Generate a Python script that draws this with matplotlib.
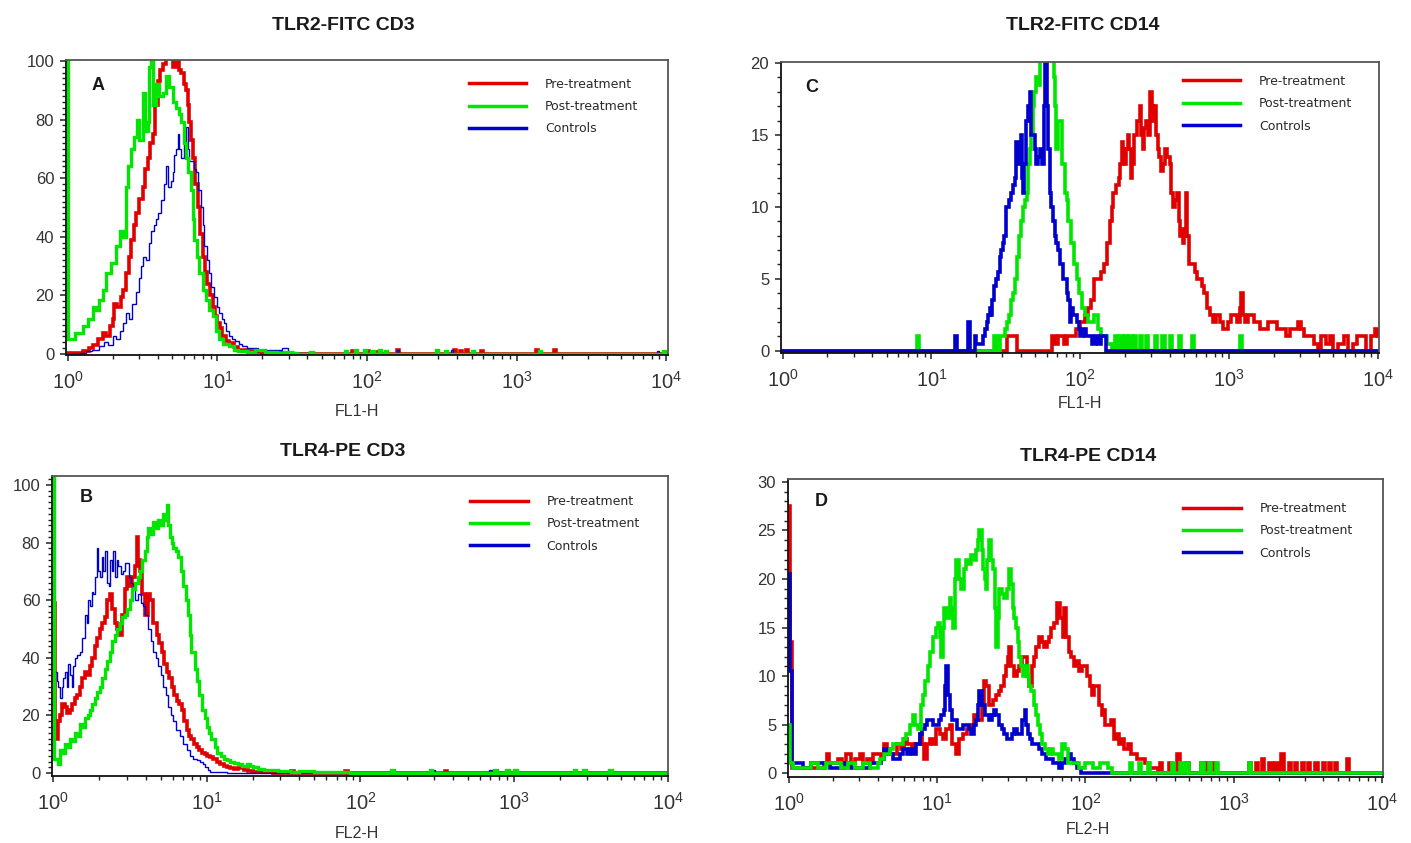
import numpy as np
import matplotlib
matplotlib.use("Agg")
import matplotlib.pyplot as plt
from matplotlib.lines import Line2D
from matplotlib.ticker import MultipleLocator, LogLocator, NullFormatter

plt.rcParams["font.family"] = ["Liberation Sans", "DejaVu Sans"]
plt.rcParams["mathtext.fontset"] = "custom"
plt.rcParams["mathtext.rm"] = "Liberation Sans"
plt.rcParams["mathtext.it"] = "Liberation Sans"

W, H = 1411, 843
RED, GREEN, BLUE = "#e00000", "#00e600", "#0000cc"
LABELS = ["Pre-treatment", "Post-treatment", "Controls"]

# x values are log10(channel intensity), y values are counts

# ---------- A: TLR2-FITC CD3 ----------
A_PRE_X = [0.0, 0.05, 0.1, 0.14, 0.167, 0.2, 0.233, 0.255, 0.278, 0.3, 0.311, 0.33, 0.356, 0.37,
           0.389, 0.405, 0.422, 0.44, 0.456, 0.475, 0.5, 0.515, 0.533, 0.55, 0.567, 0.585, 0.6,
           0.615, 0.633, 0.655, 0.678, 0.7, 0.722, 0.74, 0.756, 0.775, 0.789, 0.8, 0.811, 0.822,
           0.833, 0.85, 0.867, 0.885, 0.9, 0.915, 0.933, 0.95, 0.967, 0.985, 1.0, 1.015, 1.033,
           1.055, 1.08, 1.11, 1.14, 1.2, 1.25, 1.3, 1.4]
A_PRE_Y = [0.5, 0.5, 1, 2, 3, 5, 7, 6, 9.4, 12, 17, 16, 19.6, 22,
           27.6, 33, 39, 44, 48, 53, 57, 63, 67, 72, 75, 85, 93,
           97, 99, 101, 101, 98, 101, 97, 96, 92, 90, 85, 79, 73,
           67, 58, 50, 41, 33, 28, 24, 20, 16, 13, 10.5, 9, 6,
           4.5, 3.7, 2.5, 1.5, 1, 0.6, 0.5, 0.3]
A_PRE_BLIPS = [(1.9, 1.0), (2.0, 1.0), (2.05, 0.8), (2.2, 1.2), (2.58, 1.2), (2.62, 1.0),
               (2.66, 1.2), (2.76, 1.0), (3.13, 1.2), (3.25, 1.2)]

A_POST_X = [-0.013, 0.0, 0.05, 0.1, 0.135, 0.167, 0.19, 0.21, 0.235, 0.256, 0.285, 0.32, 0.345,
            0.367, 0.385, 0.4, 0.42, 0.44, 0.46, 0.478, 0.5, 0.515, 0.533, 0.545, 0.556, 0.57,
            0.589, 0.61, 0.633, 0.655, 0.678, 0.7, 0.722, 0.74, 0.756, 0.775, 0.789, 0.805,
            0.822, 0.835, 0.844, 0.86, 0.878, 0.9, 0.922, 0.945, 0.967, 0.99, 1.01, 1.04, 1.08,
            1.11, 1.14, 1.2, 1.25, 1.32, 1.4, 1.45, 1.5]
A_POST_Y = [110, 5, 7, 9.4, 12, 16, 15, 18.5, 22, 27.6, 31, 36.7, 42,
            40, 57, 64, 70, 74, 80, 73, 89, 76, 79, 98, 101, 85,
            92, 88, 89, 95, 91, 86, 84, 82, 79, 72, 67, 62,
            56, 46, 39, 33, 27.6, 22, 18.5, 15, 12.8, 8, 5, 3.5, 2.6,
            1.5, 1, 0.8, 1.2, 0.7, 0.5, 0.8, 0.3]
A_POST_BLIPS = [(1.62, 0.8), (1.85, 1.0), (1.92, 1.2), (1.98, 1.2), (2.03, 1.0), (2.08, 1.2),
                (2.12, 1.0), (2.46, 1.2), (2.52, 1.0), (2.7, 1.0), (3.15, 1.0), (3.98, 1.0)]

A_CTRL_X = [0.0, 0.08, 0.122, 0.16, 0.21, 0.24, 0.27, 0.3, 0.32, 0.345, 0.367, 0.39, 0.41, 0.43,
            0.456, 0.475, 0.489, 0.505, 0.522, 0.54, 0.556, 0.575, 0.589, 0.605, 0.622, 0.64,
            0.656, 0.67, 0.689, 0.7, 0.711, 0.722, 0.733, 0.745, 0.756, 0.767, 0.778, 0.789,
            0.8, 0.811, 0.822, 0.84, 0.856, 0.87, 0.889, 0.9, 0.911, 0.93, 0.944, 0.96, 0.978,
            0.995, 1.01, 1.03, 1.044, 1.06, 1.08, 1.1, 1.12, 1.145, 1.167, 1.2, 1.23, 1.27,
            1.32, 1.37, 1.43, 1.47, 1.52, 1.6]
A_CTRL_Y = [0, 0.5, 1, 1.5, 2.6, 4, 3, 6, 5, 8, 10.5, 14, 12, 17,
            21, 26, 30, 33, 32, 38, 42, 44, 46, 48, 52.5, 58,
            64, 57, 59, 62, 68, 70, 75, 70, 67, 67, 72, 77.5,
            70, 66, 66, 63, 62, 56, 50, 44, 37, 32, 27.6, 23, 19.6,
            16, 14, 12, 10.5, 8, 6, 5, 4.3, 3.5, 2.6, 2.2, 2, 1.5,
            1.5, 1.2, 2, 0.8, 0.5, 0.3]
A_CTRL_BLIPS = [(2.2, 1.2), (2.56, 1.2), (3.94, 1.0)]

# ---------- B: TLR4-PE CD3 ----------
B_PRE_X = [0.0, 0.012, 0.022, 0.033, 0.043, 0.06, 0.076, 0.09, 0.11, 0.125, 0.14, 0.157, 0.174,
           0.19, 0.207, 0.224, 0.24, 0.255, 0.27, 0.287, 0.304, 0.32, 0.337, 0.353, 0.37, 0.385,
           0.402, 0.418, 0.435, 0.45, 0.467, 0.483, 0.5, 0.515, 0.533, 0.543, 0.555, 0.565,
           0.58, 0.598, 0.615, 0.63, 0.652, 0.674, 0.69, 0.707, 0.72, 0.74, 0.755, 0.77, 0.787,
           0.804, 0.82, 0.837, 0.853, 0.87, 0.885, 0.9, 0.918, 0.935, 0.95, 0.967, 0.985, 1.0,
           1.02, 1.043, 1.065, 1.087, 1.11, 1.13, 1.15, 1.174, 1.2, 1.24, 1.27, 1.3, 1.4]
B_PRE_Y = [59, 15, 12, 18, 20, 24, 23, 21, 22, 24, 26, 27, 30,
           33, 35, 34, 37, 40, 44, 47, 50, 52, 54, 60, 62, 57,
           52, 50, 48, 55, 64, 68, 65, 68, 72, 82, 74, 70,
           62, 55, 62, 60, 52, 48, 45, 42, 38, 35, 33, 30, 27,
           25, 24, 22, 18, 15, 13, 12, 10, 9, 8, 7, 6.5, 6,
           5.5, 5, 4, 3, 2.5, 2, 1.8, 1.5, 1.8, 1, 0.8, 0.5, 0.3]
B_PRE_BLIPS = [(1.55, 0.8), (1.9, 0.8), (2.55, 0.8)]

B_POST_X = [-0.008, 0.003, 0.03, 0.043, 0.06, 0.076, 0.09, 0.11, 0.125, 0.14, 0.157, 0.174, 0.19,
            0.207, 0.225, 0.24, 0.255, 0.27, 0.287, 0.304, 0.32, 0.337, 0.353, 0.37, 0.385,
            0.402, 0.418, 0.435, 0.45, 0.467, 0.483, 0.5, 0.515, 0.533, 0.55, 0.565, 0.58,
            0.598, 0.61, 0.62, 0.635, 0.652, 0.668, 0.685, 0.7, 0.717, 0.73, 0.74, 0.75, 0.76,
            0.77, 0.78, 0.8, 0.815, 0.83, 0.848, 0.865, 0.88, 0.89, 0.9, 0.92, 0.935, 0.95,
            0.967, 0.985, 1.0, 1.015, 1.03, 1.05, 1.065, 1.09, 1.11, 1.13, 1.15, 1.175, 1.2,
            1.23, 1.26, 1.28, 1.3, 1.33, 1.37, 1.42, 1.46, 1.5, 1.55, 1.6, 1.7, 1.8, 1.9]
B_POST_Y = [115, 5, 3, 8, 7, 10, 9, 12, 11, 14, 13, 17, 16,
            19, 20, 22, 24, 26, 28, 30, 33, 36, 39, 42, 46,
            48, 50, 52, 54, 55, 57, 60, 64, 66, 68, 70, 74,
            77, 82, 85, 83, 87, 85, 88, 86, 90, 88, 93, 86, 82,
            80, 78, 77, 75, 70, 65, 60, 55, 48, 42, 36, 32, 27,
            22, 19, 16, 14, 12, 9, 7, 6, 5, 4.5, 4, 3.5, 3,
            2.5, 3, 2.5, 2, 1.5, 1, 1, 0.7, 0.8, 0.5, 0.6, 0.4, 0.5, 0.3]
B_POST_BLIPS = [(2.2, 1.0), (2.45, 1.0), (2.87, 1.0), (2.95, 1.0), (3.0, 1.0), (3.39, 1.0),
                (3.45, 1.0), (3.62, 1.0)]

B_CTRL_X = [0.0, 0.01, 0.022, 0.033, 0.043, 0.054, 0.065, 0.076, 0.087, 0.098, 0.11, 0.12, 0.13,
            0.14, 0.157, 0.174, 0.19, 0.207, 0.217, 0.228, 0.24, 0.25, 0.26, 0.272, 0.283,
            0.293, 0.304, 0.315, 0.326, 0.337, 0.348, 0.36, 0.37, 0.38, 0.39, 0.4, 0.413,
            0.424, 0.44, 0.457, 0.47, 0.49, 0.505, 0.52, 0.535, 0.554, 0.57, 0.587, 0.6, 0.62,
            0.635, 0.652, 0.668, 0.685, 0.7, 0.717, 0.733, 0.75, 0.765, 0.78, 0.8, 0.826,
            0.845, 0.87, 0.89, 0.913, 0.935, 0.957, 0.975, 0.99, 1.005, 1.02, 1.1]
B_CTRL_Y = [35, 35, 32, 30, 26, 30, 33, 35, 30, 38, 34, 30, 37,
            40, 41, 42, 47, 55, 52, 60, 58, 63, 62, 68, 78,
            70, 68, 75, 70, 77, 66, 65, 74, 70, 77, 68, 74,
            72, 69, 70, 73, 68, 66, 65, 60, 62, 59, 58, 55, 50,
            46, 42, 40, 37, 34, 30, 27, 23, 20, 18, 15, 13,
            10, 8, 6, 5, 4.5, 4, 3, 2, 1, 0.5, 0.3]
B_CTRL_BLIPS = [(1.5, 0.6), (2.47, 1.0), (2.84, 1.0)]

# ---------- C: TLR2-FITC CD14 ----------
C_PRE_X = [0.0, 1.51, 1.575, 1.81, 1.83, 1.85, 1.87, 1.89, 1.91, 1.93, 1.95, 1.97, 1.99, 2.0,
           2.015, 2.03, 2.05, 2.07, 2.09, 2.105, 2.12, 2.14, 2.16, 2.18, 2.2, 2.21, 2.22, 2.24,
           2.26, 2.27, 2.28, 2.29, 2.3, 2.31, 2.32, 2.33, 2.34, 2.35, 2.36, 2.38, 2.4, 2.41,
           2.42, 2.43, 2.44, 2.455, 2.47, 2.48, 2.49, 2.5, 2.51, 2.52, 2.53, 2.54, 2.555, 2.57,
           2.585, 2.6, 2.61, 2.62, 2.635, 2.65, 2.66, 2.67, 2.68, 2.69, 2.7, 2.71, 2.72, 2.73,
           2.75, 2.77, 2.785, 2.8, 2.815, 2.83, 2.85, 2.87, 2.89, 2.91, 2.94, 2.96, 2.99, 3.01,
           3.03, 3.05, 3.07, 3.08, 3.095, 3.11, 3.13, 3.15, 3.17, 3.19, 3.21, 3.24, 3.26, 3.28,
           3.3, 3.32, 3.35, 3.38, 3.41, 3.44, 3.46, 3.48, 3.5, 3.54, 3.57, 3.6, 3.62, 3.65, 3.68,
           3.7, 3.73, 3.77, 3.8, 3.83, 3.86, 3.89, 3.92, 3.95, 3.98, 4.0]
C_PRE_Y = [0, 1, 0, 1, 0.5, 1, 1, 0.5, 1, 1, 1, 1.5, 1.5, 2,
           2, 2.5, 3, 3.5, 5, 5, 5, 5.5, 6, 7.5, 9, 10, 11, 11.5,
           12, 13, 14.5, 14, 13, 14, 15, 14, 12, 13, 15, 16, 17, 15,
           14, 15.5, 16, 15, 18, 17, 16, 17, 15, 14, 13.5, 12.5, 13, 14,
           13.5, 13, 11, 10, 10.5, 11, 9, 8, 8.5, 7.5, 8, 11, 8, 6,
           6, 5.5, 5, 5, 4.5, 4, 3, 2.5, 2, 2.5, 2, 1.5, 2, 2.5,
           2.5, 2, 3, 4, 2.5, 2, 2.5, 2.5, 2, 2, 1.5, 1.5, 2, 2,
           2, 1.5, 1.5, 1, 1.5, 1.5, 2, 1.5, 1, 1, 0.5, 0, 1, 0.5, 1,
           0, 0.5, 1, 0, 0.5, 1, 1, 0, 1, 1.5, 1]
C_PRE_BLIPS = []

C_POST_X = [0.0, 0.9, 0.915, 1.42, 1.44, 1.46, 1.48, 1.495, 1.51, 1.52, 1.535, 1.545, 1.56,
            1.575, 1.59, 1.6, 1.615, 1.627, 1.64, 1.65, 1.66, 1.67, 1.68, 1.69, 1.705, 1.715,
            1.73, 1.75, 1.766, 1.79, 1.806, 1.82, 1.83, 1.84, 1.85, 1.86, 1.874, 1.885, 1.897,
            1.908, 1.92, 1.93, 1.94, 1.958, 1.976, 1.99, 2.01, 2.03, 2.05, 2.07, 2.09, 2.1, 2.12,
            2.14, 2.16, 2.18]
C_POST_Y = [0, 1, 0, 1, 0, 1, 1, 1.5, 2, 2.5, 3.5, 4, 5,
            6.5, 8, 9, 10, 10.5, 11, 13, 14, 15, 17, 18, 19, 18.5,
            21, 21, 21, 21, 21, 19, 17, 14, 16, 16, 13, 13, 11,
            10.5, 9, 9, 7.5, 6, 5, 4, 3, 2.5, 2, 2, 2.5, 2.5, 1.5,
            1, 1, 0.5]
C_POST_BLIPS = [(2.23, 1), (2.27, 1), (2.3, 1), (2.33, 1), (2.36, 1), (2.4, 1), (2.44, 1),
                (2.5, 1), (2.55, 1), (2.6, 1), (2.66, 1), (2.75, 1), (3.07, 1)]

C_CTRL_X = [0.0, 1.155, 1.17, 1.245, 1.26, 1.29, 1.3, 1.32, 1.345, 1.36, 1.37, 1.38, 1.39, 1.4,
            1.41, 1.42, 1.435, 1.45, 1.46, 1.47, 1.48, 1.49, 1.5, 1.51, 1.52, 1.535, 1.545, 1.56,
            1.57, 1.58, 1.59, 1.6, 1.605, 1.615, 1.625, 1.637, 1.648, 1.66, 1.67, 1.68, 1.693,
            1.705, 1.717, 1.73, 1.74, 1.75, 1.758, 1.766, 1.775, 1.784, 1.795, 1.806, 1.818,
            1.83, 1.84, 1.85, 1.862, 1.874, 1.886, 1.897, 1.91, 1.92, 1.93, 1.94, 1.95, 1.96,
            1.975, 1.99, 2.0, 2.02, 2.04, 2.06, 2.08, 2.1, 2.12, 2.14]
C_CTRL_Y = [0, 1, 0, 2, 0, 1, 0.5, 0.5, 1, 1.5, 2, 2.5, 3, 2.5,
            3.5, 4.5, 5, 5.5, 6.5, 7, 7.5, 8, 10, 10, 10.5, 11, 11.5, 12,
            14.5, 14.5, 13, 15, 12, 11, 13, 16, 17, 18, 15, 15, 14,
            13, 13.5, 14, 13, 13, 17, 21, 17, 14, 11, 10, 9,
            8, 7.5, 7, 6, 6, 5, 5, 4, 3.5, 2, 3, 2.5, 2.5,
            2, 1.5, 1, 1.5, 1, 1, 0.5, 1, 0.5, 1]
C_CTRL_BLIPS = []

# ---------- D: TLR4-PE CD14 ----------
D_PRE_X = [0.0, 0.012, 0.024, 0.1, 0.15, 0.21, 0.24, 0.257, 0.27, 0.3, 0.33, 0.36, 0.39, 0.42,
           0.45, 0.48, 0.5, 0.526, 0.55, 0.57, 0.6, 0.62, 0.64, 0.66, 0.68, 0.705, 0.73, 0.76,
           0.78, 0.8, 0.83, 0.855, 0.884, 0.9, 0.91, 0.93, 0.95, 0.97, 0.996, 1.02, 1.04, 1.06,
           1.085, 1.1, 1.13, 1.15, 1.174, 1.2, 1.22, 1.235, 1.25, 1.265, 1.286, 1.3, 1.315,
           1.33, 1.35, 1.365, 1.38, 1.4, 1.415, 1.43, 1.45, 1.465, 1.475, 1.487, 1.5, 1.52,
           1.54, 1.555, 1.57, 1.59, 1.605, 1.62, 1.64, 1.655, 1.67, 1.69, 1.705, 1.72, 1.74,
           1.756, 1.77, 1.79, 1.81, 1.83, 1.846, 1.855, 1.866, 1.877, 1.89, 1.9, 1.92, 1.935,
           1.955, 1.975, 1.99, 2.01, 2.03, 2.045, 2.06, 2.07, 2.09, 2.11, 2.125, 2.135, 2.15,
           2.17, 2.19, 2.21, 2.225, 2.24, 2.26, 2.29, 2.31, 2.325, 2.35, 2.37, 2.4, 2.43, 2.46]
D_PRE_Y = [27.5, 13.5, 0.5, 0.5, 0.5, 0.5, 1, 2, 1, 1, 1.5, 1, 2, 1,
           1.5, 2, 1, 1.5, 1, 2, 2, 1.5, 3, 2.5, 2, 2, 3, 2.5,
           3.5, 3, 2.5, 3, 4, 3, 1.5, 3, 3.5, 3, 4.5, 4, 3.5, 4.5,
           5, 3, 2, 3.5, 4, 4.5, 4.5, 5, 6, 5.5, 5.5, 7, 9.5,
           9, 7, 7, 7.5, 8, 8.5, 9, 10, 11, 12, 13, 11, 10,
           10.5, 11, 12, 12, 10, 9, 11, 12, 13, 14, 13.5, 13, 13.5,
           14, 15, 15.5, 17.5, 16, 14, 17, 14, 14, 12.5, 12, 11, 11.5,
           10.5, 11, 11, 10, 9, 8, 9, 9, 7, 6, 6.5, 5, 5,
           5.5, 3.5, 4, 3, 3.5, 2.5, 3, 2, 2, 1.5, 1.5, 1, 0.5, 0.5]
D_PRE_BLIPS = [(2.5, 1), (2.56, 1), (2.62, 2), (2.68, 1), (2.78, 1), (2.82, 1), (2.86, 1),
               (3.1, 1), (3.15, 1), (3.19, 1.5), (3.24, 1), (3.28, 1), (3.32, 2), (3.37, 1),
               (3.41, 1), (3.46, 1), (3.5, 1), (3.55, 1), (3.6, 1), (3.64, 1), (3.68, 1),
               (3.76, 1.5)]

D_POST_X = [0.0, 0.012, 0.03, 0.08, 0.15, 0.2, 0.25, 0.3, 0.35, 0.4, 0.45, 0.5, 0.55, 0.6,
            0.615, 0.64, 0.66, 0.68, 0.705, 0.725, 0.75, 0.77, 0.79, 0.815, 0.84, 0.855, 0.87,
            0.89, 0.906, 0.92, 0.94, 0.956, 0.973, 0.99, 1.007, 1.02, 1.03, 1.04, 1.05, 1.065,
            1.085, 1.095, 1.107, 1.12, 1.13, 1.145, 1.163, 1.18, 1.197, 1.215, 1.23, 1.25,
            1.264, 1.275, 1.286, 1.3, 1.31, 1.32, 1.33, 1.34, 1.353, 1.365, 1.375, 1.39, 1.4,
            1.41, 1.42, 1.435, 1.454, 1.47, 1.487, 1.5, 1.51, 1.52, 1.53, 1.545, 1.555, 1.565,
            1.577, 1.59, 1.6, 1.61, 1.62, 1.635, 1.655, 1.665, 1.68, 1.695, 1.71, 1.73, 1.745,
            1.76, 1.78, 1.8, 1.823, 1.84, 1.86, 1.88, 1.92, 1.96, 2.0, 2.05, 2.1, 2.15]
D_POST_Y = [5, 1, 0.5, 0.5, 1, 0.5, 1, 1, 0.5, 1, 0.5, 1, 0.5, 1,
            1.5, 2, 2, 2.5, 3, 3, 3, 3.5, 4, 5, 6, 5, 4.5,
            7, 8, 9.5, 11, 12.5, 14, 15, 15.5, 14, 12, 15, 17, 16,
            18, 17, 15, 20, 22, 20, 19, 21, 22, 21.5, 22.5, 22,
            23, 24, 25, 23, 21, 20, 19, 22, 24, 22, 21, 17, 13,
            16, 19, 18.5, 18, 19, 21, 19.5, 17, 16, 15, 13.5, 12, 11,
            10, 11, 11, 10, 9, 8.5, 7, 6, 5, 4, 3, 2.5, 2,
            2.5, 2, 2, 1.5, 3, 2.5, 1, 1, 0.5, 1, 0.5, 1, 0.5]
D_POST_BLIPS = [(2.3, 1), (2.36, 1), (2.42, 1), (2.58, 1), (2.64, 1), (2.68, 1), (2.78, 1),
                (2.83, 1), (2.88, 1), (3.1, 1)]

D_CTRL_X = [0.0, 0.012, 0.024, 0.07, 0.1, 0.15, 0.2, 0.25, 0.28, 0.35, 0.38, 0.42, 0.45, 0.5,
            0.55, 0.6, 0.62, 0.64, 0.66, 0.68, 0.705, 0.727, 0.75, 0.77, 0.8, 0.82, 0.84, 0.86,
            0.884, 0.9, 0.917, 0.935, 0.95, 0.97, 0.996, 1.015, 1.03, 1.045, 1.055, 1.063, 1.073,
            1.085, 1.1, 1.12, 1.135, 1.15, 1.175, 1.197, 1.215, 1.23, 1.25, 1.264, 1.275, 1.286,
            1.3, 1.32, 1.335, 1.353, 1.37, 1.387, 1.4, 1.42, 1.435, 1.454, 1.47, 1.487, 1.505,
            1.52, 1.54, 1.555, 1.575, 1.59, 1.6, 1.61, 1.625, 1.64, 1.665, 1.69, 1.71, 1.735,
            1.76, 1.78, 1.8, 1.823, 1.84, 1.86, 1.875, 1.89, 1.9, 1.92, 1.94]
D_CTRL_Y = [20.5, 10.5, 1, 1, 0.5, 1, 1, 1, 0.5, 0.5, 1, 0.5, 0.5, 0.5,
            1, 1, 1.5, 2.5, 2, 2, 1.5, 1.5, 2, 2.5, 2, 2.5, 2, 3,
            4, 4.5, 5, 5.5, 5.5, 5, 5, 5.5, 6, 6.5, 9, 11, 8,
            6.5, 5.5, 5.5, 4.5, 4.5, 5, 5, 4.5, 4, 5, 5.5, 7, 8.5,
            7, 6, 6, 5.5, 6, 6.5, 6, 5, 4.5, 4, 3.5, 3.5, 4,
            4.5, 4, 4, 5.5, 6.5, 5, 4, 3.5, 3, 3, 2.5, 2, 1.5,
            1.5, 1, 1, 0.5, 1, 1.5, 1.5, 2, 1.5, 1, 0.5]
D_CTRL_BLIPS = []

PANELS = [
    # title, letter, xlabel, series in drawing order (last on top)
    ("TLR2-FITC CD3", "A", "FL1-H",
     [(A_PRE_X, A_PRE_Y, A_PRE_BLIPS, RED, 2.6),
      (A_CTRL_X, A_CTRL_Y, A_CTRL_BLIPS, BLUE, 1.0),
      (A_POST_X, A_POST_Y, A_POST_BLIPS, GREEN, 2.4)]),
    ("TLR4-PE CD3", "B", "FL2-H",
     [(B_PRE_X, B_PRE_Y, B_PRE_BLIPS, RED, 2.6),
      (B_CTRL_X, B_CTRL_Y, B_CTRL_BLIPS, BLUE, 1.0),
      (B_POST_X, B_POST_Y, B_POST_BLIPS, GREEN, 2.4)]),
    ("TLR2-FITC CD14", "C", "FL1-H",
     [(C_PRE_X, C_PRE_Y, C_PRE_BLIPS, RED, 2.6),
      (C_POST_X, C_POST_Y, C_POST_BLIPS, GREEN, 2.6),
      (C_CTRL_X, C_CTRL_Y, C_CTRL_BLIPS, BLUE, 2.6)]),
    ("TLR4-PE CD14", "D", "FL2-H",
     [(D_PRE_X, D_PRE_Y, D_PRE_BLIPS, RED, 2.6),
      (D_CTRL_X, D_CTRL_Y, D_CTRL_BLIPS, BLUE, 2.6),
      (D_POST_X, D_POST_Y, D_POST_BLIPS, GREEN, 2.6)]),
]

# layout in pixels: axes box (left, top, right, bottom), xlim (log), ylim, y major/minor,
# title centre, letter centre, xlabel centre, legend anchor (axes fraction)
LAYOUT = {
    "A": dict(box=(66, 60, 668, 355), xl=(-0.013, 4.013), yl=(-0.34, 100.3), ym=(20, 2),
              title=(343, 25), letter=(98, 86), xlab=(357, 411), leg=(0.669, 0.94)),
    "B": dict(box=(52, 476, 668, 776), xl=(-0.008, 4.002), yl=(-1.0, 103.1), ym=(20, 2),
              title=(343, 451), letter=(86, 498), xlab=(357, 833), leg=(0.679, 0.937)),
    "C": dict(box=(781, 62, 1379, 353), xl=(-0.011, 4.007), yl=(-0.15, 20.07), ym=(5, 1),
              title=(1083, 25), letter=(812, 87), xlab=(1080, 403), leg=(0.672, 0.956)),
    "D": dict(box=(788, 479, 1383, 777), xl=(-0.004, 4.005), yl=(-0.4, 30.3), ym=(5, 1),
              title=(1088, 456), letter=(821, 502), xlab=(1088, 829), leg=(0.664, 0.923)),
}


def fx(px):
    return px / W


def fy(py):
    return 1 - py / H


def trace(xs, ys, blips):
    x = list(xs) + [xs[-1] + 0.03]
    y = list(ys) + [0]
    for pos, h in blips:
        x += [pos, pos + 0.016]
        y += [h, 0]
    x.append(4.05)
    y.append(0)
    order = np.argsort(x, kind="stable")
    return 10 ** np.array(x)[order], np.array(y)[order]


fig = plt.figure(figsize=(W / 100, H / 100), dpi=100)

for title, letter, xlabel, series in PANELS:
    lay = LAYOUT[letter]
    l, t, r, b = lay["box"]
    ax = fig.add_axes([fx(l), fy(b), (r - l) / W, (b - t) / H])

    for xs, ys, blips, color, lw in series:
        x, y = trace(xs, ys, blips)
        ax.step(x, y, where="post", color=color, lw=lw, solid_joinstyle="miter")

    ax.set_xscale("log")
    ax.set_xlim(10 ** lay["xl"][0], 10 ** lay["xl"][1])
    ax.set_ylim(*lay["yl"])
    ax.set_xticks([1, 10, 100, 1000, 10000])
    ax.xaxis.set_minor_locator(LogLocator(base=10, subs=np.arange(2, 10)))
    ax.xaxis.set_minor_formatter(NullFormatter())
    ax.yaxis.set_major_locator(MultipleLocator(lay["ym"][0]))
    ax.yaxis.set_minor_locator(MultipleLocator(lay["ym"][1]))

    ax.tick_params(axis="both", which="major", direction="out", length=4.5, width=1.1,
                   color="#222222", labelcolor="#333333")
    ax.tick_params(axis="both", which="minor", direction="out", length=2.6, width=1.0,
                   color="#222222")
    ax.tick_params(axis="y", labelsize=12, pad=4)
    ax.tick_params(axis="x", labelsize=14.5, pad=7)

    for side in ("left", "bottom"):
        ax.spines[side].set_color("#111111")
        ax.spines[side].set_linewidth(1.3)
    for side in ("top", "right"):
        ax.spines[side].set_color("#555555")
        ax.spines[side].set_linewidth(1.3)

    handles = [Line2D([], [], color=c, lw=2.5) for c in (RED, GREEN, BLUE)]
    ax.legend(handles, LABELS, loc="upper left", bbox_to_anchor=lay["leg"], frameon=False,
              prop=dict(family="DejaVu Sans", size=9), labelcolor="#2a2a2a",
              handlelength=4.6, handletextpad=1.5, labelspacing=0.75,
              borderaxespad=0, borderpad=0)

    fig.text(fx(lay["title"][0]), fy(lay["title"][1]), title, ha="center", va="center",
             fontsize=14, fontweight="bold", color="#1a1a1a")
    fig.text(fx(lay["letter"][0]), fy(lay["letter"][1]), letter, ha="center", va="center",
             fontsize=13, fontweight="bold", color="#1a1a1a")
    fig.text(fx(lay["xlab"][0]), fy(lay["xlab"][1]), xlabel, ha="center", va="center",
             fontsize=11.5, color="#333333")

fig.savefig("out.png", dpi=100)
